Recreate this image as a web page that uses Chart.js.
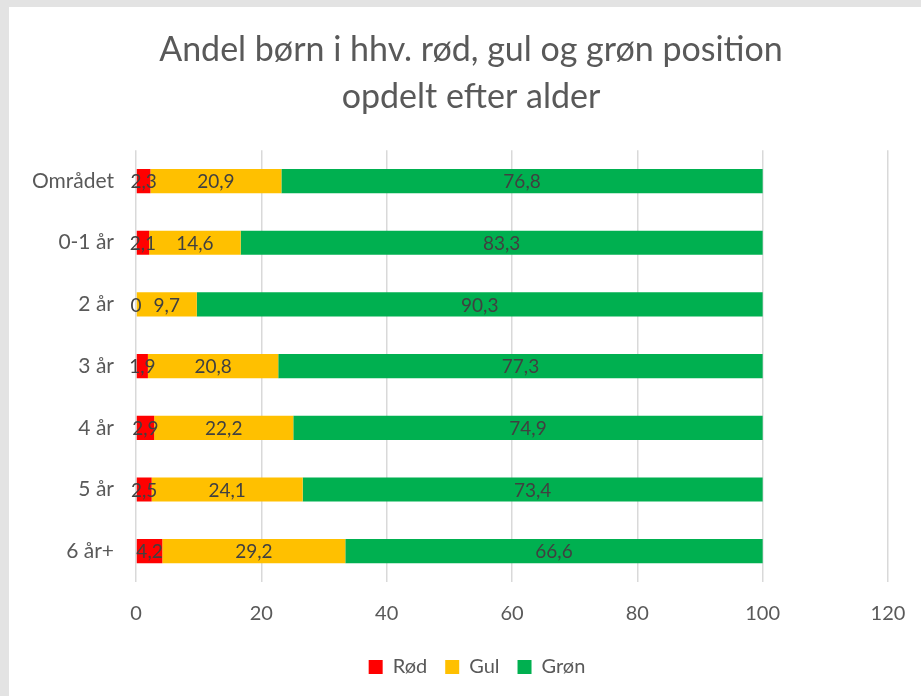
<!DOCTYPE html>
<html>
<head>
<meta charset="utf-8">
<script src="https://cdn.jsdelivr.net/npm/chart.js@4.4.1/dist/chart.umd.min.js"></script>
<style>
  body { margin: 0; background: #e3e3e3; }
  #wrap { position: absolute; left: 9px; top: 7px; width: 912px; height: 689px; background: #fff; }
</style>
</head>
<body>
<div id="wrap"><canvas id="chart" width="912" height="689"></canvas></div>
<script>
var categories = ["Området", "0-1 år", "2 år", "3 år", "4 år", "5 år", "6 år+"]
var rodValues = [2.3, 2.1, 0, 1.9, 2.9, 2.5, 4.2]
var gulValues = [20.9, 14.6, 9.7, 20.8, 22.2, 24.1, 29.2]
var gronValues = [76.8, 83.3, 90.3, 77.3, 74.9, 73.4, 66.6]
var xTicks = [0, 20, 40, 60, 80, 100, 120]

var fontName = "Lato, 'Open Sans', sans-serif"
var textGrey = "#595959"

// draws the value in the middle of every bar segment
var valueLabels = {
	id: "valueLabels",
	afterDatasetsDraw: function(chart) {
		var ctx = chart.ctx
		ctx.save()
		ctx.font = "19px " + fontName
		ctx.fillStyle = "#404040"
		ctx.textAlign = "center"
		ctx.textBaseline = "middle"
		chart.data.datasets.forEach(function(ds, i) {
			var meta = chart.getDatasetMeta(i)
			meta.data.forEach(function(bar, j) {
				var txt = String(ds.data[j]).replace(".", ",")
				ctx.fillText(txt, (bar.x + bar.base) / 2, bar.y + 1)
			})
		})
		ctx.restore()
	}
}

// excel centres title and legend a bit right of the canvas middle
var shiftBoxes = {
	id: "shiftBoxes",
	afterLayout: function(chart) {
		if (chart.titleBlock) chart.titleBlock.left += 45
		if (chart.legend) chart.legend.left += 57
	}
}

new Chart("chart", {
	type: "bar",
	data: {
		labels: categories,
		datasets: [
			{ label: "Rød", data: rodValues, backgroundColor: "#ff0000" },
			{ label: "Gul", data: gulValues, backgroundColor: "#ffc000" },
			{ label: "Grøn", data: gronValues, backgroundColor: "#00b050" }
		]
	},
	options: {
		indexAxis: "y",
		responsive: false,
		animation: false,
		devicePixelRatio: 1,
		datasets: {
			bar: { categoryPercentage: 0.8, barPercentage: 0.49, borderWidth: 0 }
		},
		layout: { padding: { left: 0, right: 33, top: 0, bottom: 9 } },
		scales: {
			x: {
				stacked: true,
				min: 0,
				max: 120,
				afterBuildTicks: function(scale) {
					scale.ticks = xTicks.map(function(v) { return { value: v } })
				},
				afterFit: function(scale) {
					scale.height = 57
					scale.paddingLeft = 0
					scale.paddingRight = 0
				},
				border: { display: false },
				grid: { color: "#d9d9d9", lineWidth: 1.5, drawTicks: false },
				ticks: { color: textGrey, font: { family: fontName, size: 20 }, padding: 20, maxRotation: 0 }
			},
			y: {
				stacked: true,
				afterFit: function(scale) { scale.width = 127 },
				border: { display: false },
				grid: { display: false, drawTicks: false },
				ticks: { color: textGrey, font: { family: fontName, size: 21 }, padding: 22 }
			}
		},
		plugins: {
			title: {
				display: true,
				text: ["Andel børn i hhv. rød, gul og grøn position", "opdelt efter alder"],
				color: textGrey,
				font: { family: fontName, size: 34, weight: "normal", lineHeight: 1.4 },
				padding: { top: 19, bottom: 29 }
			},
			legend: {
				position: "bottom",
				labels: {
					color: textGrey,
					font: { family: fontName, size: 20 },
					boxWidth: 14,
					boxHeight: 14,
					padding: 18
				}
			},
			tooltip: { enabled: false }
		}
	},
	plugins: [valueLabels, shiftBoxes]
})
</script>
</body>
</html>
